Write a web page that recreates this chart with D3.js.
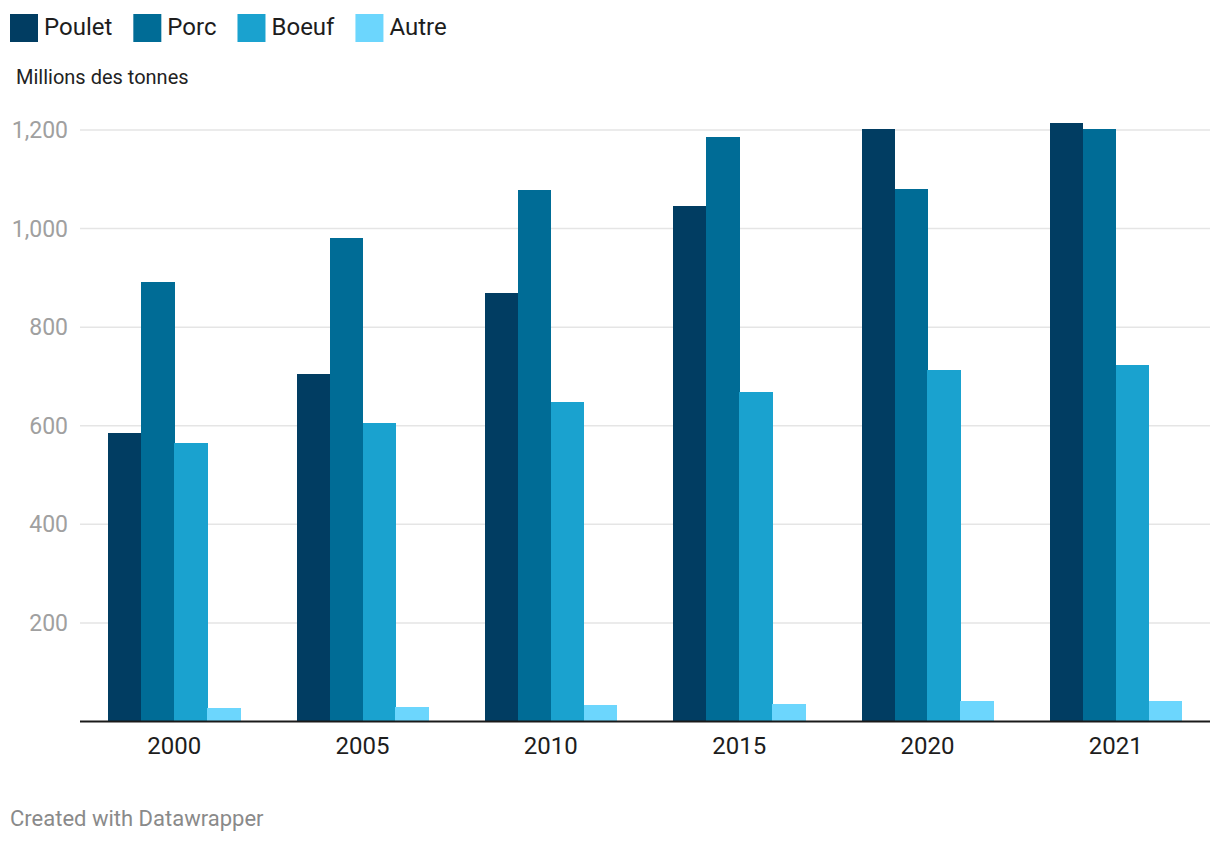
<!DOCTYPE html>
<html>
<head>
<meta charset="utf-8">
<script src="https://cdn.jsdelivr.net/npm/d3@7"></script>
<style>
  body { margin: 0; background: #fff; font-family: Roboto, sans-serif; }
</style>
</head>
<body>
<div id="chart"></div>
<script>
const years = ['2000', '2005', '2010', '2015', '2020', '2021'];
const series = ['Poulet', 'Porc', 'Boeuf', 'Autre'];
const colors = ['#013d62', '#006c96', '#1aa2cf', '#6cd6fd'];
const poulet = [585, 704, 870, 1045, 1203, 1215];
const porc   = [891, 980, 1079, 1185, 1081, 1203];
const boeuf  = [565, 605, 648, 668, 714, 723];
const autre  = [28, 30, 34, 36, 42, 42];
const yTicks = [200, 400, 600, 800, 1000, 1200];

const W = 1220, H = 844;
const values = [poulet, porc, boeuf, autre];
const rows = years.map((yr, i) => ({ year: yr, vals: series.map((s, j) => ({ key: s, v: values[j][i], c: colors[j] })) }));

const svg = d3.select('#chart').append('svg').attr('width', W).attr('height', H);

const mLeft = 80, mRight = 1210, mTop = 130, mBottom = 721.5;
const x = d3.scaleBand().domain(years).range([mLeft, mRight]).paddingInner(0.3).paddingOuter(0.15);
const xi = d3.scaleBand().domain(series).range([0, x.bandwidth()]);
const y = d3.scaleLinear().domain([0, 1200]).range([mBottom, mTop]);

// legend
let lx = 10;
series.forEach((s, i) => {
  svg.append('rect').attr('x', lx).attr('y', 14).attr('width', 28).attr('height', 28).attr('fill', colors[i]);
  const t = svg.append('text').attr('x', lx + 34).attr('y', 35).attr('font-size', 24)
    .attr('fill', '#1d1d1d').text(s);
  lx += 34 + t.node().getComputedTextLength() + 21;
});

svg.append('text').attr('x', 16).attr('y', 84).attr('font-size', 20).attr('fill', '#222')
  .text('Millions des tonnes');

// grid
svg.append('g').selectAll('line').data(yTicks).join('line')
  .attr('x1', mLeft).attr('x2', mRight)
  .attr('y1', d => y(d)).attr('y2', d => y(d))
  .attr('stroke', '#e5e5e5').attr('stroke-width', 1.5);

svg.append('g').selectAll('text').data(yTicks).join('text')
  .attr('x', 68).attr('y', d => y(d) + 8).attr('text-anchor', 'end')
  .attr('font-size', 23).attr('fill', '#a0a0a0')
  .text(d => d3.format(',')(d));

// bars
const g = svg.append('g').attr('shape-rendering', 'crispEdges').selectAll('g').data(rows).join('g')
  .attr('transform', d => `translate(${x(d.year)},0)`);
g.selectAll('rect').data(d => d.vals).join('rect')
  .attr('x', d => xi(d.key)).attr('width', xi.bandwidth() + 0.5)
  .attr('y', d => y(d.v)).attr('height', d => mBottom - y(d.v))
  .attr('fill', d => d.c);

// axis line
svg.append('line').attr('x1', mLeft).attr('x2', mRight).attr('y1', mBottom).attr('y2', mBottom)
  .attr('stroke', '#1a1a1a').attr('stroke-width', 2);

svg.append('g').selectAll('text').data(years).join('text')
  .attr('x', d => x(d) + x.bandwidth() / 2).attr('y', 754).attr('text-anchor', 'middle')
  .attr('font-size', 24).attr('fill', '#1d1d1d').text(d => d);

svg.append('text').attr('x', 10).attr('y', 826).attr('font-size', 22).attr('fill', '#8a8a8a')
  .text('Created with Datawrapper');
</script>
</body>
</html>
